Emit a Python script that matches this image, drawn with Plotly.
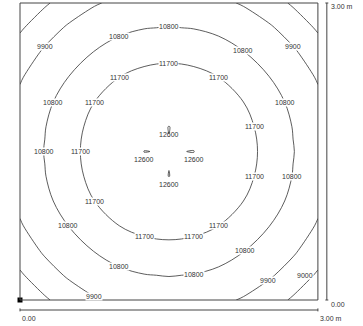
import plotly.graph_objects as go

# Illuminance grid (lx), 3.00 m x 3.00 m room, 0.25 m steps
x_m = [0.0, 0.25, 0.5, 0.75, 1.0, 1.25, 1.5, 1.75, 2.0, 2.25, 2.5, 2.75, 3.0]
y_m = [0.0, 0.25, 0.5, 0.75, 1.0, 1.25, 1.5, 1.75, 2.0, 2.25, 2.5, 2.75, 3.0]
lux = [
    [8350, 8880, 9440, 9830, 10070, 10200, 10250, 10200, 10070, 9830, 9440, 8880, 8350],
    [8880, 9550, 10020, 10350, 10600, 10770, 10830, 10770, 10600, 10350, 10020, 9550, 8880],
    [9440, 10020, 10440, 10830, 11190, 11410, 11480, 11410, 11190, 10830, 10440, 10020, 9440],
    [9830, 10350, 10830, 11340, 11700, 11920, 11990, 11920, 11700, 11340, 10830, 10350, 9830],
    [10070, 10600, 11190, 11700, 12050, 12270, 12350, 12270, 12050, 11700, 11190, 10600, 10070],
    [10200, 10770, 11410, 11920, 12270, 12495, 12603, 12495, 12270, 11920, 11410, 10770, 10200],
    [10250, 10830, 11480, 11990, 12350, 12603, 12590, 12604, 12350, 11990, 11480, 10830, 10250],
    [10200, 10770, 11410, 11920, 12270, 12495, 12604, 12495, 12270, 11920, 11410, 10770, 10200],
    [10070, 10600, 11190, 11700, 12050, 12270, 12350, 12270, 12050, 11700, 11190, 10600, 10070],
    [9830, 10350, 10830, 11340, 11700, 11920, 11990, 11920, 11700, 11340, 10830, 10350, 9830],
    [9440, 10020, 10440, 10830, 11190, 11410, 11480, 11410, 11190, 10830, 10440, 10020, 9440],
    [8880, 9550, 10020, 10350, 10600, 10770, 10830, 10770, 10600, 10350, 10020, 9550, 8880],
    [8350, 8880, 9440, 9830, 10070, 10200, 10250, 10200, 10070, 9830, 9440, 8880, 8350],
]
iso_start, iso_end, iso_step = 9000, 12600, 900
room_w, room_d = 3.0, 3.0
scale_labels = ['0.00', '3.00 m']

# where the isoline values are written: (level, grid line, index, first/last crossing, x nudge px)
label_spots = [
    (9900, 'col', 1, 'last', 0), (9900, 'col', 11, 'last', 0),
    (9900, 'col', 3, 'first', 0), (9900, 'col', 10, 'first', 0),
    (9000, 'row', 1, 'last', -8),
    (10800, 'col', 6, 'last', 0), (10800, 'col', 4, 'last', 0), (10800, 'col', 9, 'last', 0),
    (10800, 'row', 8, 'first', 0), (10800, 'row', 6, 'first', 0), (10800, 'row', 8, 'last', 0),
    (10800, 'row', 5, 'last', 0), (10800, 'row', 3, 'first', 0), (10800, 'col', 4, 'first', 0),
    (10800, 'col', 7, 'first', 0), (10800, 'row', 2, 'last', 0),
    (11700, 'col', 6, 'last', 0), (11700, 'col', 4, 'last', 0), (11700, 'col', 8, 'last', 0),
    (11700, 'row', 8, 'first', 0), (11700, 'row', 6, 'first', 0), (11700, 'row', 4, 'first', 0),
    (11700, 'row', 7, 'last', 0), (11700, 'row', 5, 'last', 0), (11700, 'row', 3, 'last', 0),
    (11700, 'col', 5, 'first', 0), (11700, 'col', 7, 'first', 0),
]
# the little 12600 islands get their value written just below them
peak_spots = [
    (12600, 'col', 6, 'last'), (12600, 'row', 6, 'first'),
    (12600, 'row', 6, 'last'), (12600, 'col', 6, 'first'),
]

txt = dict(family='Arial, Liberation Sans, sans-serif', size=7, color='#333')


def crossing(level, kind, idx, which):
    # point where the isoline cuts one grid row/column (linear, as plotly does)
    if kind == 'row':
        vals, pos = lux[idx], x_m
    else:
        vals, pos = [row[idx] for row in lux], y_m
    hits = []
    for i in range(len(vals) - 1):
        a, b = vals[i], vals[i + 1]
        if (a - level) * (b - level) <= 0 and a != b:
            hits.append(pos[i] + (level - a) / (b - a) * (pos[i + 1] - pos[i]))
    p = hits[0] if which == 'first' else hits[-1]
    return (p, y_m[idx]) if kind == 'row' else (x_m[idx], p)


fig = go.Figure()

fig.add_trace(go.Contour(
    x=x_m, y=y_m, z=lux,
    contours=dict(start=iso_start, end=iso_end, size=iso_step,
                  coloring='none', showlabels=False),
    line=dict(color='#333', width=0.8, smoothing=1),
    showscale=False, hoverinfo='skip'))

# origin marker
fig.add_trace(go.Scatter(x=[0], y=[0], mode='markers',
                         marker=dict(symbol='square', size=5, color='black'),
                         hoverinfo='skip', showlegend=False))

# isoline values, upright, on a white patch that breaks the line
for level, kind, idx, which, nudge in label_spots:
    px, py = crossing(level, kind, idx, which)
    fig.add_annotation(x=px, y=py, text=str(level), showarrow=False, xshift=nudge,
                       bgcolor='white', borderpad=0, font=txt)
for level, kind, idx, which in peak_spots:
    px, py = crossing(level, kind, idx, which)
    fig.add_annotation(x=px, y=py, text=str(level), showarrow=False,
                       yshift=-8, font=txt)

# room outline
fig.add_shape(type='rect', x0=0, y0=0, x1=room_w, y1=room_d,
              line=dict(color='#444', width=1))

# scale bars
bar = dict(color='#444', width=1)
fig.add_shape(type='line', x0=0, x1=room_w, y0=-0.101, y1=-0.101, line=bar)
fig.add_shape(type='line', x0=0, x1=0, y0=-0.085, y1=-0.115, line=bar)
fig.add_shape(type='line', x0=room_w, x1=room_w, y0=-0.085, y1=-0.115, line=bar)
fig.add_shape(type='line', x0=3.09, x1=3.09, y0=0, y1=room_d, line=bar)
fig.add_shape(type='line', x0=3.075, x1=3.105, y0=0, y1=0, line=bar)
fig.add_shape(type='line', x0=3.075, x1=3.105, y0=room_d, y1=room_d, line=bar)

fig.add_annotation(x=0.0, y=-0.185, text=scale_labels[0], showarrow=False,
                   xanchor='left', yanchor='middle', font=txt)
fig.add_annotation(x=room_w, y=-0.185, text=scale_labels[1], showarrow=False,
                   xanchor='left', yanchor='middle', font=txt)
fig.add_annotation(x=3.11, y=-0.05, text=scale_labels[0], showarrow=False,
                   xanchor='left', yanchor='middle', font=txt)
fig.add_annotation(x=3.11, y=2.96, text=scale_labels[1], showarrow=False,
                   xanchor='left', yanchor='middle', font=txt)

fig.update_layout(
    width=363, height=326,
    margin=dict(l=0, r=0, t=0, b=0),
    paper_bgcolor='white', plot_bgcolor='white',
    showlegend=False,
    xaxis=dict(range=[-0.2014, 3.4542], visible=False, fixedrange=True),
    yaxis=dict(range=[-0.2626, 3.0303], visible=False, fixedrange=True),
)

fig.write_html("out.html", config={'displayModeBar': False},
               post_script="document.body.style.margin='0';")
